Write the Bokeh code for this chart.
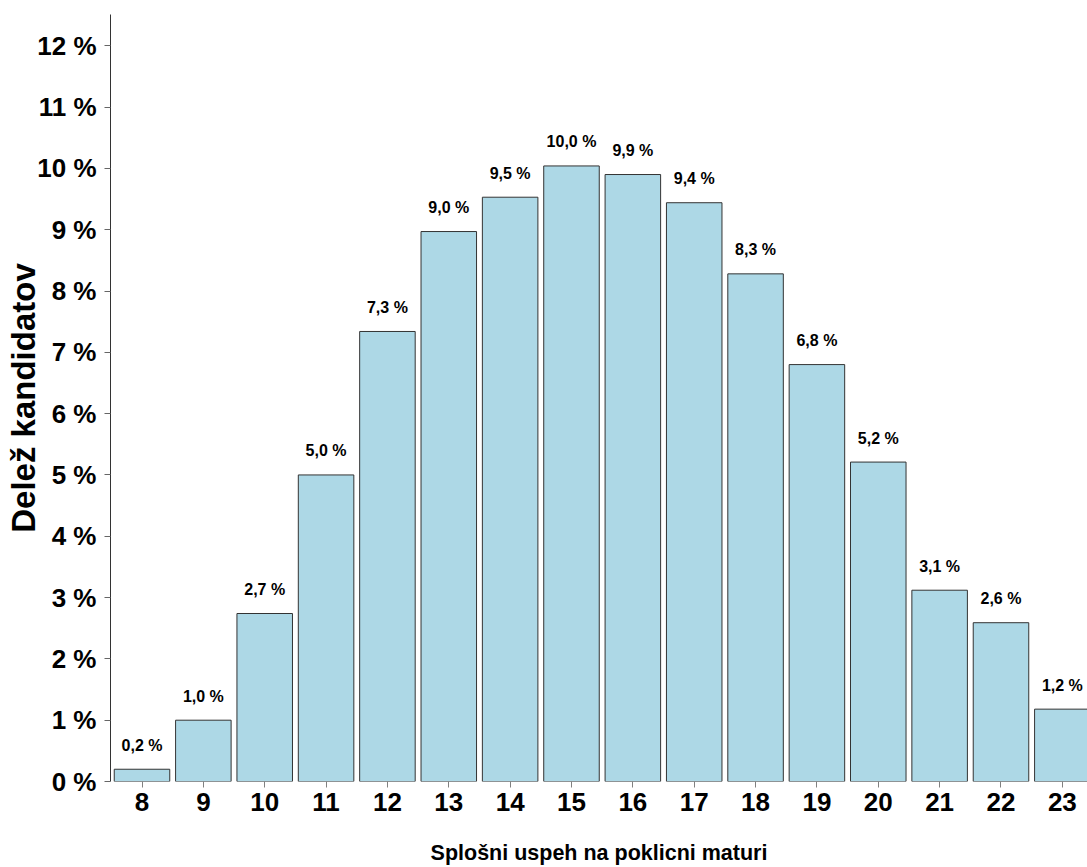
from bokeh.plotting import figure
from bokeh.models import ColumnDataSource, FixedTicker, Range1d
from bokeh.core.properties import value
from bokeh.embed import file_html
from bokeh.resources import INLINE

# data
grades = [8, 9, 10, 11, 12, 13, 14, 15, 16, 17, 18, 19, 20, 21, 22, 23]
shares = [0.2, 1.0, 2.74, 5.0, 7.34, 8.97, 9.53, 10.04, 9.9, 9.44, 8.28, 6.8, 5.21, 3.12, 2.59, 1.18]
y_ticks = [0, 1, 2, 3, 4, 5, 6, 7, 8, 9, 10, 11, 12]
y_tick_labels = {t: f"{t} %" for t in y_ticks}
bar_labels = [f"{v:.1f}".replace(".", ",") + " %" for v in shares]
x_title = "Splošni uspeh na poklicni maturi"
y_title = "Delež kandidatov"

src = ColumnDataSource(dict(x=grades, top=shares, lab=bar_labels))

FONT = "Liberation Sans"
X0, X1 = 7.4866, 23.41
Y0, Y1 = 0, 12.51

p = figure(width=1087, height=867, output_backend="svg", toolbar_location=None,
           x_range=Range1d(X0, X1), y_range=Range1d(Y0, Y1),
           min_border_left=110, min_border_right=0, min_border_top=14, min_border_bottom=86)
p.outline_line_color = None
p.xgrid.grid_line_color = None
p.ygrid.grid_line_color = None
p.background_fill_color = "white"

p.vbar(x="x", top="top", bottom=0, width=0.905, source=src,
       fill_color="#ADD8E6", line_color="#333333", line_width=1)

p.text(x="x", y="top", text="lab", source=src, text_align="center",
       text_baseline="middle", y_offset=-24, text_font=value(FONT),
       text_font_style="bold", text_font_size="16px", text_color="black")

# x axis
xa = p.xaxis[0]
xa.ticker = FixedTicker(ticks=grades)
xa.axis_line_color = None
xa.major_tick_line_color = "#808080"
xa.major_tick_out = 6
xa.major_tick_in = 0
xa.minor_tick_line_color = None
xa.major_label_text_font = FONT
xa.major_label_text_font_style = "bold"
xa.major_label_text_font_size = "26px"
xa.major_label_text_color = "black"
xa.major_label_standoff = 5
xa.axis_label = x_title
xa.axis_label_text_font = FONT
xa.axis_label_text_font_style = "bold"
xa.axis_label_text_font_size = "21.5px"
xa.axis_label_text_color = "black"
xa.axis_label_standoff = 27

# y axis
ya = p.yaxis[0]
ya.ticker = FixedTicker(ticks=y_ticks)
ya.major_label_overrides = y_tick_labels
ya.axis_line_color = "#333333"
ya.axis_line_width = 1
ya.major_tick_line_color = "#666666"
ya.major_tick_out = 6
ya.major_tick_in = 0
ya.minor_tick_line_color = None
ya.major_label_text_font = FONT
ya.major_label_text_font_style = "bold"
ya.major_label_text_font_size = "26px"
ya.major_label_text_color = "black"
ya.major_label_standoff = 8
ya.axis_label = y_title
ya.axis_label_text_font = FONT
ya.axis_label_text_font_style = "bold"
ya.axis_label_text_font_size = "33px"
ya.axis_label_text_color = "black"
ya.axis_label_standoff = -8

open("out.html", "w").write(file_html(p, INLINE))
